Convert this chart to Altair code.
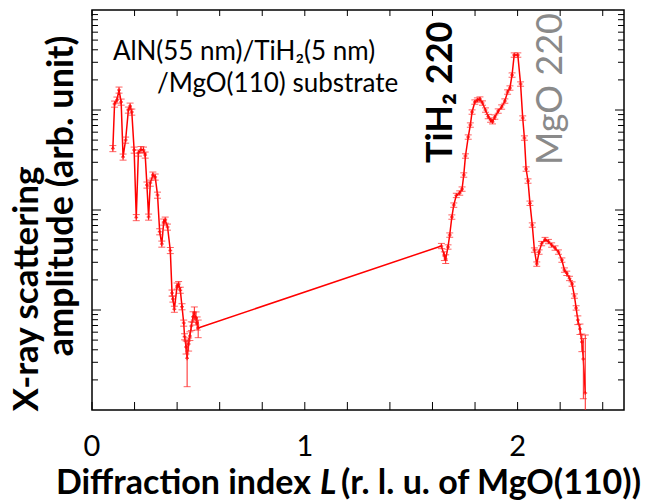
import altair as alt
import pandas as pd

# Diffraction index L (r.l.u.) and scattering amplitude (arb. unit)
L = [0.098, 0.106, 0.117, 0.127, 0.137, 0.146, 0.158, 0.171, 0.179, 0.187,
     0.198, 0.208, 0.218, 0.230, 0.242, 0.250, 0.258, 0.266, 0.274, 0.286,
     0.297, 0.308, 0.318, 0.328, 0.337, 0.344, 0.355, 0.368, 0.376, 0.380,
     0.387, 0.400, 0.407, 0.415, 0.423, 0.431, 0.435, 0.442, 0.447, 0.454,
     0.460, 0.467, 0.475, 0.481, 0.489, 0.494, 0.499,
     1.642, 1.656, 1.662, 1.673, 1.681, 1.691, 1.700, 1.712, 1.728, 1.739,
     1.747, 1.755, 1.768, 1.778, 1.786, 1.799, 1.811, 1.823, 1.835, 1.849,
     1.862, 1.873, 1.882, 1.893, 1.909, 1.925, 1.940, 1.953, 1.964, 1.974,
     1.984, 2.001, 2.014, 2.024, 2.032, 2.040, 2.049, 2.058, 2.069, 2.079,
     2.090, 2.101, 2.113, 2.129, 2.145, 2.160, 2.176, 2.192, 2.208, 2.220,
     2.231, 2.244, 2.256, 2.267, 2.275, 2.283, 2.293, 2.302, 2.309, 2.318]
amp = [412, 1148, 1259, 1585, 1202, 339, 501, 1000, 1096, 955,
       398, 84.1, 372, 403, 398, 355, 178, 85.1, 186, 224,
       214, 141, 60.7, 45.7, 75.9, 79.4, 67.6, 39.4, 14.8, 12.9,
       10.2, 17.4, 18.0, 15.8, 10.8, 7.41, 5.41, 4.27, 3.29, 4.57,
       5.50, 6.92, 8.57, 9.33, 8.32, 7.41, 6.61,
       43.7, 34.7, 32.4, 42.7, 56.2, 85.1, 112, 140, 148, 162,
       224, 347, 537, 708, 955, 1202, 1259, 1288, 1175, 1000,
       861, 794, 764, 851, 977, 1072, 1230, 1514, 1660, 2239,
       3548, 3548, 1820, 832, 525, 257, 195, 117, 70.8, 39.8,
       28.8, 38.0, 46.2, 50.7, 48.4, 44.7, 41.7, 38.0, 31.6, 25.1,
       23.3, 20.7, 18.2, 13.8, 10.5, 7.94, 6.46, 4.79, 3.24, 1.48]
# relative error bar half-length
err_frac = [0.07] * 37 + [0.15, 0.48, 0.15, 0.1, 0.1, 0.12, 0.15, 0.15, 0.15, 0.2] + \
           [0.06, 0.1, 0.1] + [0.05] * 52 + [0.1, 0.12, 0.2, 0.6, 2.8]

# axis tick positions and labels
x_ticks = [0, 0.2, 0.4, 0.6, 0.8, 1, 1.2, 1.4, 1.6, 1.8, 2, 2.2, 2.4]
x_labels = [0, 1, 2]
x_label_text = ["0", "1", "2"]
y_major = [10, 100, 1000]
y_minor = [2, 3, 4, 5, 6, 7, 8, 9, 20, 30, 40, 50, 60, 70, 80, 90,
           200, 300, 400, 500, 600, 700, 800, 900, 2000, 3000, 4000, 5000,
           6000, 7000, 8000, 9000]

W, H = 532, 400
lo = [max(a * (1 - f), 0.3) for a, f in zip(amp, err_frac)]
hi = [a * (1 + f) for a, f in zip(amp, err_frac)]
df = pd.DataFrame({"L": L, "amp": amp, "lo": lo, "hi": hi})

FONT = "Lato, Noto Sans, DejaVu Sans"
xs = alt.Scale(domain=[0, 2.5], nice=False, zero=False)
ys = alt.Scale(type="log", domain=[1, 10000], nice=False)

base = alt.Chart(df)
line = base.mark_line(color="#ff0000", strokeWidth=1.5, clip=True).encode(
    x=alt.X("L:Q", scale=xs, axis=None),
    y=alt.Y("amp:Q", scale=ys, axis=None),
)
pts = base.mark_point(shape="cross", filled=True, size=14, color="#ff0000", clip=True).encode(
    x=alt.X("L:Q", scale=xs, axis=None),
    y=alt.Y("amp:Q", scale=ys, axis=None),
)
err = base.mark_errorbar(ticks=True, size=7, thickness=1, color="#ff2020", clip=True).encode(
    x=alt.X("L:Q", scale=xs, axis=None),
    y=alt.Y("lo:Q", scale=ys, axis=None),
    y2="hi:Q",
)

# inward tick marks on all four sides, positioned by the shared scales
xt = alt.Chart(pd.DataFrame({"v": x_ticks}))
tick_bottom = xt.mark_rule(color="black", strokeWidth=1).encode(
    x=alt.X("v:Q", scale=xs, axis=None), y=alt.value(H - 8), y2=alt.value(H))
tick_top = xt.mark_rule(color="black", strokeWidth=1).encode(
    x=alt.X("v:Q", scale=xs, axis=None), y=alt.value(0), y2=alt.value(6))


def yticks(vals, length):
    c = alt.Chart(pd.DataFrame({"v": vals}))
    left = c.mark_rule(color="black", strokeWidth=1).encode(
        y=alt.Y("v:Q", scale=ys, axis=None), x=alt.value(0), x2=alt.value(length))
    right = c.mark_rule(color="black", strokeWidth=1).encode(
        y=alt.Y("v:Q", scale=ys, axis=None), x=alt.value(W - length), x2=alt.value(W))
    return [left, right]


ticks = [tick_bottom, tick_top] + yticks(y_major, 9) + yticks(y_minor, 6)

tick_labels = alt.Chart(pd.DataFrame({"v": x_labels, "t": x_label_text})).mark_text(
    font=FONT, fontSize=29, color="black", align="center", baseline="alphabetic",
).encode(x=alt.X("v:Q", scale=xs, axis=None), y=alt.value(H + 46), text="t:N")


def label(txt, x, y, size, weight="normal", color="black", angle=0,
          align="left", baseline="alphabetic", style="normal"):
    return alt.Chart(pd.DataFrame({"t": [txt]})).mark_text(
        font=FONT, fontSize=size, fontWeight=weight, color=color, angle=angle,
        align=align, baseline=baseline, fontStyle=style,
    ).encode(x=alt.value(x), y=alt.value(y), text="t:N")


texts = [
    label("AlN(55 nm)/TiH\u2082(5 nm)", 21, 50, 26),
    label("/MgO(110) substrate", 65, 82, 26),
    label("TiH\u2082 220", 360, 153, 36, weight="bold", angle=270),
    label("MgO 220", 470, 155, 36, color="#8a8a8a", angle=270),
    label("X-ray scattering", -65, 279, 35, weight="bold", angle=270,
          align="center", baseline="middle"),
    label("amplitude (arb. unit)", -30, 186, 36, weight="bold", angle=270,
          align="center", baseline="middle"),
    label("Diffraction index", 219, 484, 34, weight="bold", align="right"),
    label("L", 228, 484, 34, weight="bold", style="italic"),
    label("(r. l. u. of MgO(110))", 249, 484, 34, weight="bold"),
]

chart = alt.layer(line, err, pts, *ticks, tick_labels, *texts).properties(
    width=W, height=H,
    padding={"left": 92, "top": 10, "right": 24, "bottom": 94},
    autosize=alt.AutoSizeParams(type="none"),
    background="white",
).configure_view(stroke="black", strokeWidth=1.5)

chart.save("out.html", embed_options={"renderer": "svg", "actions": False})
